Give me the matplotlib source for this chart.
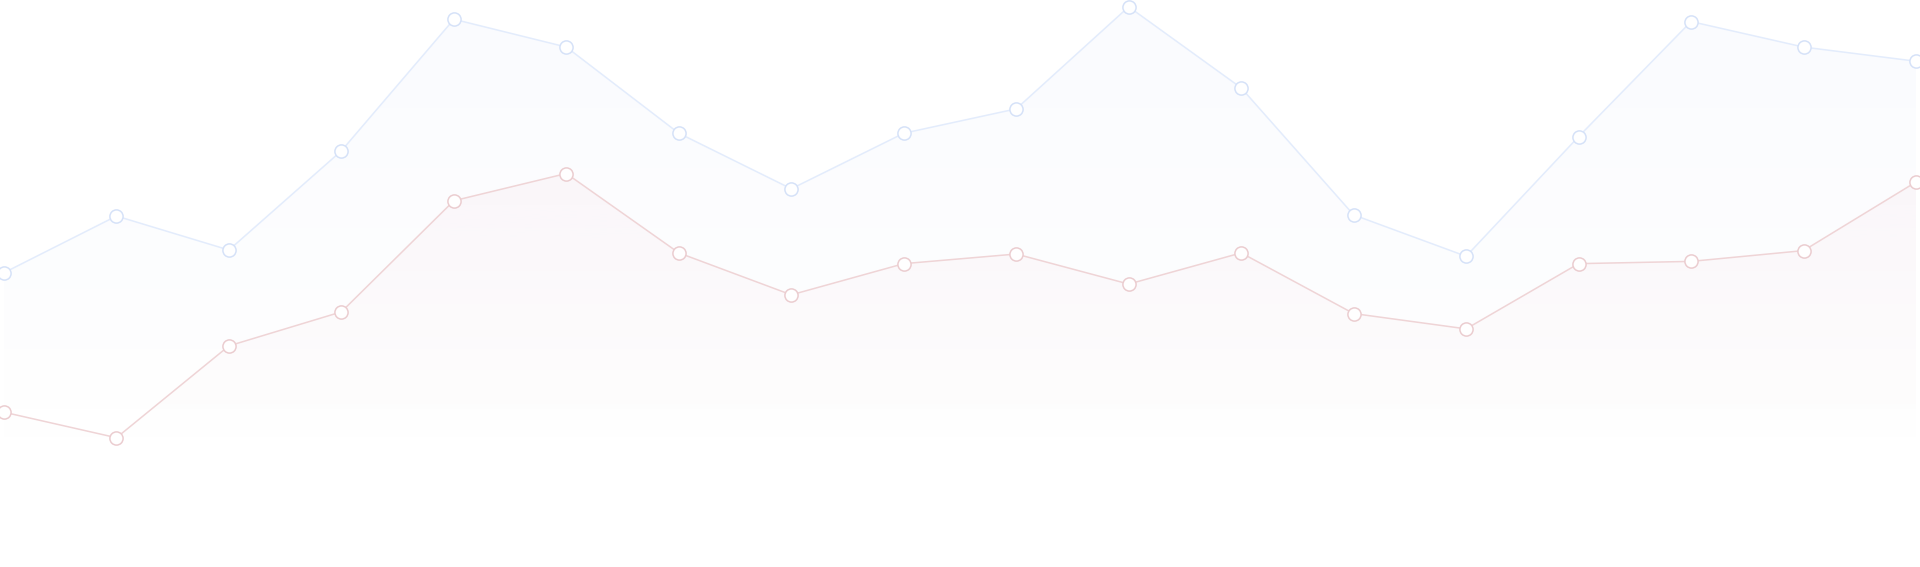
import numpy as np
import matplotlib
matplotlib.use("Agg")
from matplotlib import pyplot as plt
from matplotlib.colors import to_rgb

# valores (escala 0-100)
pontos = list(range(18))
serie_azul = [51.9, 61.9, 55.9, 73.4, 96.6, 91.7, 76.5, 66.7, 76.5, 80.8,
              98.8, 84.5, 62.1, 54.8, 75.9, 96.2, 91.7, 89.2]
serie_vermelha = [27.3, 22.8, 39.0, 45.0, 64.6, 69.4, 55.4, 48.0, 53.5, 55.2,
                  49.9, 55.4, 44.7, 42.0, 53.5, 53.9, 55.8, 67.9]

cor_linha_azul = "#e3ecfc"
cor_marca_azul = "#d6e2f8"
cor_fill_azul = "#4a78e0"
cor_linha_verm = "#efd4d6"
cor_marca_verm = "#ebcdd0"
cor_fill_verm = "#d8507a"


#preenchimento em degradê por baixo da linha
def gradient_fill(ax, x, y, color, alpha_top, y_bottom=17):
  fill = ax.fill_between(x, y, 0, color="none", lw=0)
  rgb = to_rgb(color)
  n = 256
  top = max(y)
  ys = np.linspace(0, 100, n)
  alpha = np.clip((ys - y_bottom) / (top - y_bottom), 0, 1) * alpha_top
  img = np.zeros((n, 1, 4))
  img[:, 0, :3] = rgb
  img[:, 0, 3] = alpha
  x0, x1 = ax.get_xlim()
  im = ax.imshow(img, aspect="auto", origin="lower", extent=[x0, x1, 0, 100],
                 interpolation="bilinear", zorder=1)
  path = fill.get_paths()[0]
  im.set_clip_path(path, transform=ax.transData)


fig = plt.figure(figsize=(19.2, 5.67), dpi=100)
ax = fig.add_axes([0, 0, 1, 1])
pad = 4 / (1912 / 17)
ax.set_xlim(-pad, 17 + pad)
ax.set_ylim(0, 100)
ax.axis("off")

gradient_fill(ax, pontos, serie_azul, cor_fill_azul, 0.03)
gradient_fill(ax, pontos, serie_vermelha, cor_fill_verm, 0.035)

ax.plot(pontos, serie_azul, color=cor_linha_azul, lw=1.1, zorder=3,
        marker="o", ms=9.5, mfc="white", mec=cor_marca_azul, mew=1.1)
ax.plot(pontos, serie_vermelha, color=cor_linha_verm, lw=1.1, zorder=3,
        marker="o", ms=9.5, mfc="white", mec=cor_marca_verm, mew=1.1)

fig.savefig("out.png", dpi=100, facecolor="white")
